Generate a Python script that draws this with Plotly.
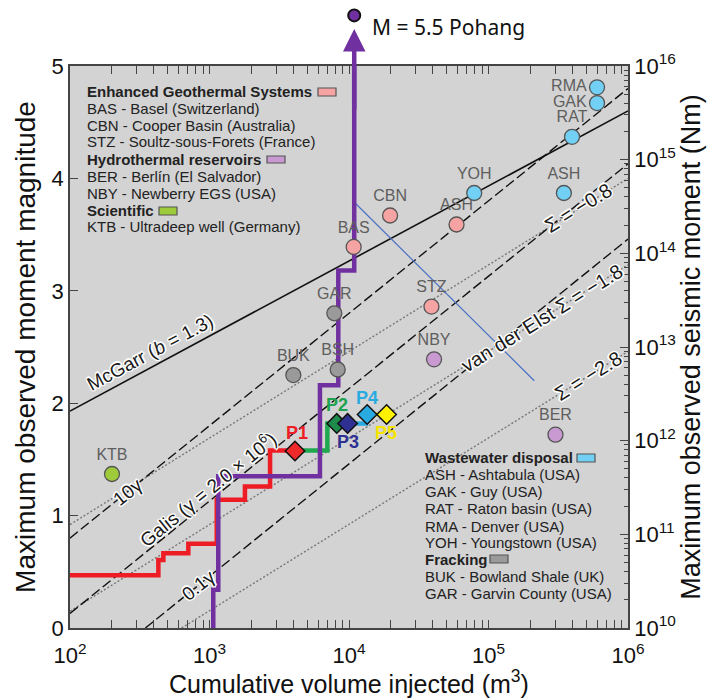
import math
import plotly.graph_objects as go

# ---------------- data ----------------
egs_names = ["BAS", "CBN", "ASH", "STZ"]
egs_vol = [10800, 19700, 59000, 39000]
egs_mag = [3.39, 3.67, 3.59, 2.86]

hyd_names = ["NBY", "BER"]
hyd_vol = [40700, 302000]
hyd_mag = [2.39, 1.72]

sci_names = ["KTB"]
sci_vol = [200]
sci_mag = [1.37]

ww_names = ["YOH", "ASH", "RAT", "GAK", "RMA"]
ww_vol = [79000, 347000, 397000, 600000, 600000]
ww_mag = [3.87, 3.87, 4.37, 4.67, 4.81]

frk_names = ["BUK", "GAR", "BSH"]
frk_vol = [3990, 7850, 8300]
frk_mag = [2.25, 2.80, 2.30]

# reference lines (end points)
mcgarr_vol = [1e2, 1e6]
mcgarr_mag = [1.93, 4.60]
galis10_vol = [1e2, 1e6]
galis10_mag = [0.80, 4.80]
galis1_vol = [1e2, 1e6]
galis1_mag = [0.13, 4.13]
galis01_vol = [347, 1e6]
galis01_mag = [0.0, 3.46]
sig08_vol = [1e2, 1e6]
sig08_mag = [0.92, 4.00]
sig18_vol = [1e2, 1e6]
sig18_mag = [0.15, 3.23]
sig28_vol = [631, 1e6]
sig28_mag = [0.0, 2.46]
blue_vol = [10870, 212800]
blue_mag = [3.79, 2.20]

# injection step histories
red_vol = [100, 430, 430, 467, 467, 705, 705, 1127, 1127, 1795, 1795, 2717, 2717, 4100]
red_mag = [0.47, 0.47, 0.605, 0.605, 0.665, 0.665, 0.75, 0.75, 1.14, 1.14, 1.26, 1.26, 1.58, 1.58]
green_vol = [4100, 7000, 7000, 8170]
green_mag = [1.58, 1.58, 1.82, 1.82]
blue_step_vol = [9770, 13240, 13240]
blue_step_mag = [1.82, 1.82, 1.90]
yellow_vol = [13500, 18600]
yellow_mag = [1.90, 1.90]
purple_vol = [1064, 1064, 1156, 1156, 6190, 6190, 8380, 8380, 10900, 10900]
purple_mag = [0.0, 0.34, 0.34, 1.35, 1.35, 2.16, 2.16, 3.18, 3.18, 5.0]
pohang_vol = 10900
pohang_mag = 5.45

p_names = ["P1", "P2", "P3", "P4", "P5"]
p_vol = [4100, 8170, 9770, 13500, 18600]
p_mag = [1.575, 1.82, 1.82, 1.90, 1.90]
p_fill = ["#ee2a2a", "#1e8a4c", "#2e3192", "#29abe2", "#fff200"]
p_text = ["#ee1c24", "#1fa24f", "#2e3192", "#29abe2", "#f5e400"]

x_ticks = [1e2, 1e3, 1e4, 1e5, 1e6]
x_ticktext = ["10<sup>2</sup>", "10<sup>3</sup>", "10<sup>4</sup>", "10<sup>5</sup>", "10<sup>6</sup>"]
y_ticks = [0, 1, 2, 3, 4, 5]
y2_ticks = [1e10, 1e11, 1e12, 1e13, 1e14, 1e15, 1e16]
y2_ticktext = ["10<sup>%d</sup>" % e for e in range(10, 17)]

# ---------------- layout helpers ----------------
L, R, T, B = 70, 628, 66, 628
W, H = 715, 698
def px(x):
    return (x - L) / (R - L)
def py(y):
    return (B - y) / (B - T)

FONT = "Liberation Sans"

fig = go.Figure()

def ref_line(xv, yv, dash, color, width):
    fig.add_trace(go.Scatter(x=xv, y=yv, mode="lines", line=dict(color=color, width=width, dash=dash),
                             hoverinfo="skip", showlegend=False))

ref_line(sig08_vol, sig08_mag, "2px,2px", "#777777", 1.4)
ref_line(sig18_vol, sig18_mag, "2px,2px", "#777777", 1.4)
ref_line(sig28_vol, sig28_mag, "2px,2px", "#777777", 1.4)
ref_line(galis10_vol, galis10_mag, "10px,4px", "#111111", 1.4)
ref_line(galis1_vol, galis1_mag, "10px,4px", "#111111", 1.4)
ref_line(galis01_vol, galis01_mag, "10px,4px", "#111111", 1.4)
ref_line(mcgarr_vol, mcgarr_mag, "solid", "#111111", 1.6)
ref_line(blue_vol, blue_mag, "solid", "#4a72c4", 1.2)

# step histories
fig.add_trace(go.Scatter(x=red_vol, y=red_mag, mode="lines", line=dict(color="#ee1c24", width=4.5),
                         showlegend=False, hoverinfo="skip"))
fig.add_trace(go.Scatter(x=green_vol, y=green_mag, mode="lines", line=dict(color="#1fa84f", width=4.5),
                         showlegend=False, hoverinfo="skip"))
fig.add_trace(go.Scatter(x=blue_step_vol, y=blue_step_mag, mode="lines", line=dict(color="#29abe2", width=4.5),
                         showlegend=False, hoverinfo="skip"))
fig.add_trace(go.Scatter(x=yellow_vol, y=yellow_mag, mode="lines", line=dict(color="#f5e400", width=4),
                         showlegend=False, hoverinfo="skip"))
fig.add_trace(go.Scatter(x=purple_vol, y=purple_mag, mode="lines", line=dict(color="#7030a0", width=4.5),
                         showlegend=False, hoverinfo="skip"))

# site markers
def sites(xv, yv, names, color, positions=None):
    fig.add_trace(go.Scatter(
        x=xv, y=yv, mode="markers+text", text=names,
        textposition=positions or "top center",
        textfont=dict(family=FONT, size=16, color="#5e5e5e"),
        marker=dict(size=15, color=color, line=dict(color="#555555", width=1.3)),
        showlegend=False, hoverinfo="skip", cliponaxis=False))

sites(egs_vol, egs_mag, egs_names, "#f5a3a3")
sites(hyd_vol, hyd_mag, hyd_names, "#c99ad2")
sites(sci_vol, sci_mag, sci_names, "#9dcb3a")
sites(ww_vol, ww_mag, ww_names, "#72d0f5",
      ["top center", "top center", "top center", "middle left", "middle left"])
sites(frk_vol, frk_mag, frk_names, "#9a9a9a")

# P diamonds
fig.add_trace(go.Scatter(x=p_vol, y=p_mag, mode="markers",
                         marker=dict(symbol="diamond", size=15, color=p_fill, line=dict(color="#111111", width=1.5)),
                         showlegend=False, hoverinfo="skip"))

# dummy trace for right axis
fig.add_trace(go.Scatter(x=[1e3], y=[1e12], yaxis="y2", mode="markers", marker=dict(opacity=0),
                         showlegend=False, hoverinfo="skip"))

ann = []
# arrow to Pohang
ann.append(dict(x=math.log10(pohang_vol), y=5.33, ax=math.log10(pohang_vol), ay=4.6,
                xref="x", yref="y", axref="x", ayref="y", showarrow=True, arrowhead=2,
                arrowsize=1, arrowwidth=4.5, arrowcolor="#7030a0", text="", standoff=0))
ann.append(dict(x=px(370), y=py(27), xref="paper", yref="paper", xanchor="left", yanchor="middle",
                text="M = 5.5 Pohang", showarrow=False,
                font=dict(family="Noto Sans", size=21, color="#111111")))

# line labels with a white halo (white copies offset around the dark text)
HALO_OFFS = [(-1.5, 0), (1.5, 0), (0, -1.5), (0, 1.5), (-1, -1), (1, 1), (-1, 1), (1, -1)]
def line_label(text, x, y, angle, size=19):
    for dx, dy in HALO_OFFS:
        ann.append(dict(x=px(x), y=py(y), xref="paper", yref="paper", text=text, showarrow=False,
                        textangle=angle, xanchor="center", yanchor="middle", xshift=dx, yshift=dy,
                        font=dict(family=FONT, size=size, color="#ffffff")))
    ann.append(dict(x=px(x), y=py(y), xref="paper", yref="paper", text=text, showarrow=False,
                    textangle=angle, xanchor="center", yanchor="middle",
                    font=dict(family=FONT, size=size, color="#1a1a1a")))

line_label("McGarr (<i>b</i> = 1.3)", 150, 352, -28.2)
line_label("10γ", 127, 492, -38.9)
line_label("Galis (γ = 2.0 × 10<sup>6</sup>)", 207, 489, -38.9)
line_label("0.1γ", 198, 585, -38.9)
line_label("Σ = −0.8", 578, 208, -31.8, 20)
line_label("van der Elst Σ = −1.8", 542, 318, -31.8, 20)
line_label("Σ = −2.8", 588, 376, -31.8, 20)

# P labels
p_lab_pos = [(297, 433), (337, 405), (348, 442), (367, 398), (386, 433)]
for name, (lx, ly), c in zip(p_names, p_lab_pos, p_text):
    ann.append(dict(x=px(lx), y=py(ly), xref="paper", yref="paper", text="<b>%s</b>" % name,
                    showarrow=False, xanchor="center", yanchor="middle",
                    font=dict(family=FONT, size=18, color=c)))

# category legends (text)
legend_tl = ["<b>Enhanced Geothermal Systems</b>", "BAS - Basel (Switzerland)", "CBN - Cooper Basin (Australia)",
             "STZ - Soultz-sous-Forets (France)", "<b>Hydrothermal reservoirs</b>", "BER - Berlín (El Salvador)",
             "NBY - Newberry EGS (USA)", "<b>Scientific</b>", "KTB - Ultradeep well (Germany)"]
legend_br = ["<b>Wastewater disposal</b>", "ASH - Ashtabula (USA)", "GAK - Guy (USA)", "RAT - Raton basin (USA)",
             "RMA - Denver (USA)", "YOH - Youngstown (USA)", "<b>Fracking</b>", "BUK - Bowland Shale (UK)",
             "GAR - Garvin County (USA)"]
tl_y = [91.7, 108.3, 125, 141.7, 159, 176.2, 193.3, 210.5, 226.7]
br_y = [457.7, 475, 491.7, 508.3, 526, 542.7, 559.3, 576.7, 593.3]
for t, yy in zip(legend_tl, tl_y):
    ann.append(dict(x=px(85), y=py(yy), xref="paper", yref="paper", text=t, showarrow=False,
                    xanchor="left", yanchor="middle", font=dict(family=FONT, size=15, color="#222222")))
for t, yy in zip(legend_br, br_y):
    ann.append(dict(x=px(423), y=py(yy), xref="paper", yref="paper", text=t, showarrow=False,
                    xanchor="left", yanchor="middle", font=dict(family=FONT, size=15, color="#222222")))

shapes = []
def rect(x0, x1, y0, y1, color):
    shapes.append(dict(type="rect", xref="paper", yref="paper", x0=px(x0), x1=px(x1), y0=py(y1), y1=py(y0),
                       fillcolor=color, line=dict(color="#555555", width=1.2)))
rect(318, 336, 88, 96, "#f5a3a3")
rect(267, 285, 156, 163, "#c99ad2")
rect(159, 177, 207, 215, "#9dcb3a")
rect(577, 595, 454, 462, "#72d0f5")
rect(490, 508, 555, 563, "#9a9a9a")

# Pohang point (above the plot area)
shapes.append(dict(type="circle", xref="paper", yref="paper", xsizemode="pixel", ysizemode="pixel",
                   xanchor=px(L + (math.log10(pohang_vol) - 2) * (R - L) / 4),
                   yanchor=py(B - pohang_mag * (B - T) / 5),
                   x0=-6, x1=6, y0=-6, y1=6, fillcolor="#7030a0", line=dict(color="#111111", width=2)))

axis_common = dict(showline=True, linecolor="#444444", linewidth=1.5, ticks="inside",
                   tickcolor="#444444", showgrid=False, zeroline=False, automargin=False,
                   tickfont=dict(family=FONT, size=22, color="#111111"))

fig.update_layout(
    width=W, height=H,
    margin=dict(l=L, r=W - R, t=T, b=H - B),
    paper_bgcolor="white", plot_bgcolor="#d3d3d3",
    showlegend=False,
    annotations=ann, shapes=shapes,
    xaxis=dict(type="log", range=[2, 6], tickvals=x_ticks, ticktext=x_ticktext, ticklen=8,
               mirror="allticks", ticklabelstandoff=7,
               minor=dict(ticks="inside", ticklen=4, dtick="D1", tickcolor="#444444"),
               title=dict(text="Cumulative volume injected (m<sup>3</sup>)",
                          font=dict(family=FONT, size=25, color="#111111"), standoff=4),
               **axis_common),
    yaxis=dict(range=[0, 5], tickvals=y_ticks, ticklen=8,
               title=dict(text="Maximum observed moment magnitude",
                          font=dict(family=FONT, size=28, color="#111111"), standoff=8),
               **axis_common),
    yaxis2=dict(type="log", range=[10, 16], overlaying="y", side="right", tickvals=y2_ticks,
                ticktext=y2_ticktext, ticklen=8,
                minor=dict(ticks="inside", ticklen=4, dtick="D1", tickcolor="#444444"),
                title=dict(text="Maximum observed seismic moment (Nm)",
                           font=dict(family=FONT, size=27, color="#111111"), standoff=6),
                **axis_common),
)

fig.write_html("out.html")
